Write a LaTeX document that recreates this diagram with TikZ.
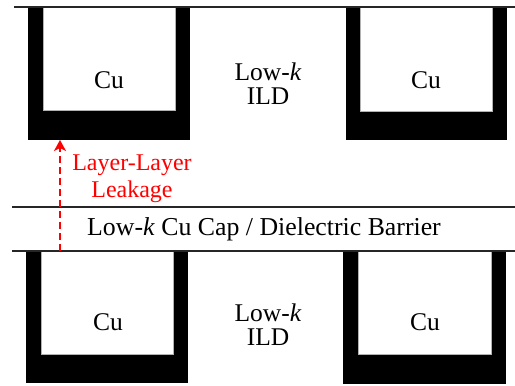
\documentclass[tikz,border=0pt]{standalone}
\usepackage{fontspec}
\setmainfont{Liberation Serif}
\usetikzlibrary{arrows.meta}
\begin{document}
\begin{tikzpicture}[x=1pt,y=-1pt,
  blk/.style={fill=black,draw=none},
  cu/.style={fill=white,draw=gray!60,line width=0.6pt},
  lbl/.style={font=\fontsize{25.5}{25}\selectfont,align=center,inner sep=0pt},
  rlbl/.style={font=\fontsize{24}{27}\selectfont,text=red,align=center,inner sep=0pt},
  hline/.style={line width=1.6pt,draw=black!85},
  leak/.style={draw=red,line width=2pt,dash pattern=on 7pt off 4pt,-{Stealth[length=11pt,width=12pt,inset=3pt]}}]
\useasboundingbox (0,0) rectangle (515,386);
% top layer
\node[blk,minimum width=162pt,minimum height=133pt,inner sep=0pt] (TLout) at (109,73.5) {};
\path[cu] (43,7) rectangle (175,110);
\node[lbl] (TLcu) at (109,80) {Cu};
\node[blk,minimum width=161pt,minimum height=133pt,inner sep=0pt] (TRout) at (426.5,73.5) {};
\path[cu] (360,7) rectangle (492,111);
\node[lbl] (TRcu) at (426,80) {Cu};
\node[lbl] (TILD) at (268,84) {Low-\textit{k}\\[-1pt]ILD};
\draw[hline] (14,7) -- (515,7);
% bottom layer
\node[blk,minimum width=162pt,minimum height=132pt,inner sep=0pt] (BLout) at (107,317) {};
\path[cu] (41,251) rectangle (173,354);
\node[lbl] (BLcu) at (108,322) {Cu};
\node[blk,minimum width=163pt,minimum height=133pt,inner sep=0pt] (BRout) at (424.5,317.5) {};
\path[cu] (358,251) rectangle (491,354);
\node[lbl] (BRcu) at (425,322) {Cu};
\node[lbl] (BILD) at (268,325) {Low-\textit{k}\\[-1pt]ILD};
% barrier
\draw[hline] (12,207) -- (515,207);
\draw[hline] (12,251) -- (515,251);
\node[lbl,font=\fontsize{25.8}{26}\selectfont] (barrier) at (264,229) {Low-\textit{k} Cu Cap / Dielectric Barrier};
% leakage arrow
\coordinate (ls) at (60,251);
\coordinate (le) at (60,140);
\draw[leak] (ls) -- (le);
\node[rlbl] (leaktxt) at (132,179) {Layer-Layer\\Leakage};
\end{tikzpicture}
\end{document}
